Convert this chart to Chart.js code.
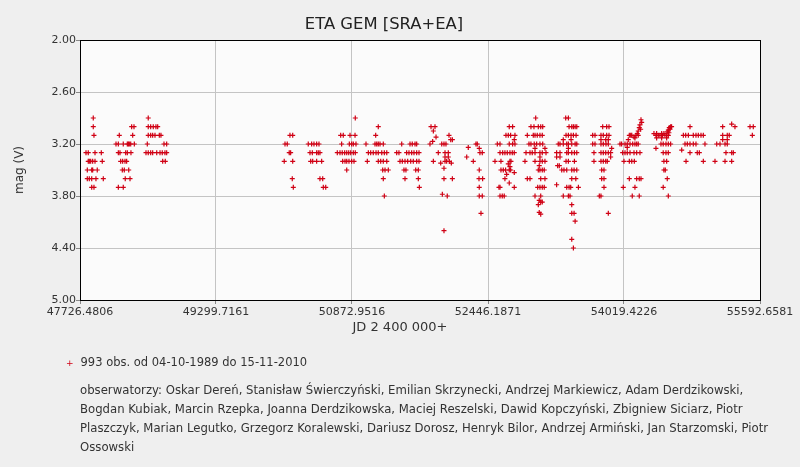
<!DOCTYPE html>
<html>
<head>
<meta charset="utf-8">
<script src="https://cdn.jsdelivr.net/npm/chart.js@4.4.0/dist/chart.umd.min.js"></script>
<style>
  html, body { margin: 0; padding: 0; background: #efefef; }
  #wrap { position: relative; width: 800px; height: 467px; font-family: "DejaVu Sans", Verdana, sans-serif; color: #333; }
  canvas { position: absolute; left: 0; top: 0; }
  .t { position: absolute; white-space: nowrap; }
  #title { left: 0; width: 768px; top: 14px; text-align: center; font-size: 16.4px; color: #222; }
  #ytitle { left: 19px; top: 170px; transform: translate(-50%, -50%) rotate(-90deg); font-size: 12px; }
  #xtitle { left: 0; width: 800px; top: 319px; text-align: center; font-size: 13px; }
  #legend { left: 66px; top: 355px; font-size: 11.5px; }
  #legend .mk { color: #d00014; font-size: 9px; margin-right: 7px; }
  #observers { left: 80px; top: 381px; font-size: 11.7px; line-height: 19px; }
</style>
</head>
<body>
<div id="wrap">
  <canvas id="chart" width="800" height="467"></canvas>
  <div class="t" id="title">ETA GEM [SRA+EA]</div>
  <div class="t" id="ytitle">mag (V)</div>
  <div class="t" id="xtitle">JD 2 400 000+</div>
  <div class="t" id="legend"><span class="mk">+</span>993 obs. od 04-10-1989 do 15-11-2010</div>
  <div class="t" id="observers">obserwatorzy: Oskar Dereń, Stanisław Świerczyński, Emilian Skrzynecki, Andrzej Markiewicz, Adam Derdzikowski,<br>Bogdan Kubiak, Marcin Rzepka, Joanna Derdzikowska, Maciej Reszelski, Dawid Kopczyński, Zbigniew Siciarz, Piotr<br>Plaszczyk, Marian Legutko, Grzegorz Koralewski, Dariusz Dorosz, Henryk Bilor, Andrzej Armiński, Jan Starzomski, Piotr<br>Ossowski</div>
</div>
<script>
// tick labels
const xTicks = [47726.4806, 49299.7161, 50872.9516, 52446.1871, 54019.4226, 55592.6581];
const yTicks = [2.00, 2.60, 3.20, 3.80, 4.40, 5.00];

// observations [JD - 2400000, mag], one array per season
const season1 = [[47880,2.9],[47880,3.0],[47888,3.1],
  [47796,3.3],[47822,3.3],[47900,3.3],[47973,3.3],
  [47822,3.4],[47834,3.4],[47850,3.4],[47873,3.4],[47900,3.4],[47984,3.4],
  [47811,3.5],[47862,3.5],[47873,3.5],[47926,3.5],
  [47811,3.6],[47834,3.6],[47862,3.6],[47911,3.6],[47996,3.6],
  [47862,3.7],[47888,3.7]];
const season2 = [[48324,3.0],[48351,3.0],[48181,3.1],[48336,3.1],
  [48143,3.2],[48170,3.2],[48227,3.2],[48274,3.2],[48286,3.2],[48297,3.2],[48313,3.2],[48355,3.2],
  [48170,3.3],[48189,3.3],[48255,3.3],[48274,3.3],[48316,3.3],
  [48197,3.4],[48220,3.4],[48247,3.4],[48266,3.4],
  [48216,3.5],[48239,3.5],[48290,3.5],
  [48250,3.6],[48305,3.6],[48170,3.7],[48227,3.7]];
const season3 = [[48516,2.9],
  [48516,3.0],[48544,3.0],[48574,3.0],[48605,3.0],[48625,3.0],
  [48516,3.1],[48544,3.1],[48567,3.1],[48594,3.1],[48644,3.1],[48663,3.1],
  [48505,3.2],[48698,3.2],[48729,3.2],
  [48490,3.3],[48516,3.3],[48544,3.3],[48567,3.3],[48614,3.3],[48652,3.3],[48678,3.3],[48709,3.3],[48729,3.3],
  [48683,3.4],[48713,3.4]];
const season4 = [[50155,3.1],[50187,3.1],[50098,3.2],[50124,3.2],[50147,3.3],[50163,3.3],
  [50089,3.4],[50187,3.4],[50182,3.6],[50194,3.7]];
const season5 = [[50367,3.2],[50406,3.2],[50433,3.2],[50464,3.2],[50491,3.2],
  [50387,3.3],[50414,3.3],[50464,3.3],[50483,3.3],[50502,3.3],
  [50395,3.4],[50418,3.4],[50464,3.4],[50522,3.4],
  [50502,3.6],[50534,3.6],[50541,3.7],[50569,3.7]];
const season6 = [[50911,2.9],
  [50742,3.1],[50772,3.1],[50850,3.1],[50908,3.1],
  [50753,3.2],[50842,3.2],[50869,3.2],[50888,3.2],[50919,3.2],
  [50703,3.3],[50734,3.3],[50760,3.3],[50788,3.3],[50812,3.3],[50835,3.3],[50858,3.3],[50888,3.3],[50911,3.3],
  [50765,3.4],[50792,3.4],[50812,3.4],[50838,3.4],[50869,3.4],[50896,3.4],
  [50812,3.5]];
const season7 = [[51177,3.0],[51147,3.1],
  [51035,3.2],[51139,3.2],[51159,3.2],[51177,3.2],[51197,3.2],[51235,3.2],
  [51062,3.3],[51089,3.3],[51119,3.3],[51151,3.3],[51177,3.3],[51217,3.3],[51247,3.3],[51275,3.3],
  [51050,3.4],[51177,3.4],[51205,3.4],[51235,3.4],[51275,3.4],
  [51228,3.5],[51255,3.5],[51293,3.5],[51235,3.6],[51247,3.8]];
const season8 = [[51448,3.2],[51544,3.2],[51570,3.2],[51602,3.2],[51621,3.2],
  [51390,3.3],[51416,3.3],[51505,3.3],[51532,3.3],[51563,3.3],[51590,3.3],[51621,3.3],[51648,3.3],
  [51428,3.4],[51455,3.4],[51486,3.4],[51517,3.4],[51552,3.4],[51582,3.4],[51621,3.4],[51648,3.4],
  [51474,3.5],[51497,3.5],[51610,3.5],[51640,3.5],
  [51486,3.6],[51640,3.6],[51652,3.7]];
const season9 = [[51787,3.0],[51833,3.0],[51814,3.05],[51845,3.12],[51806,3.17],[51775,3.2],
  [51995,3.1],[52015,3.15],[52034,3.15],
  [51911,3.2],[51937,3.2],[51960,3.2],
  [51871,3.3],[51949,3.3],[51987,3.3],[51949,3.35],[51987,3.35],
  [51814,3.4],[51949,3.4],[51968,3.4],[51999,3.4],[52022,3.42],[51899,3.42],[51937,3.48],
  [51937,3.6],[52034,3.6],[51918,3.78],[51975,3.8],[51937,4.2]];
const season10 = [[52218,3.24],[52200,3.35],[52276,3.4],[52307,3.2],[52322,3.2],[52345,3.25],
  [52353,3.3],[52380,3.3],[52345,3.5],[52342,3.6],[52384,3.6],[52345,3.7],
  [52345,3.8],[52380,3.8],[52365,4.0]];
const season11 = [[52692,3.0],[52731,3.0],
  [52654,3.1],[52681,3.1],[52708,3.1],[52758,3.1],[52750,3.15],
  [52554,3.2],[52585,3.2],[52692,3.2],[52731,3.2],[52758,3.2],
  [52585,3.3],[52616,3.3],[52642,3.3],[52669,3.3],[52700,3.3],[52727,3.3],[52750,3.3],
  [52527,3.4],[52596,3.4],[52700,3.4],[52712,3.4],[52681,3.43],[52700,3.46],
  [52596,3.5],[52623,3.5],[52650,3.5],[52692,3.5],[52708,3.5],[52750,3.53],
  [52662,3.55],[52642,3.6],[52692,3.65],
  [52573,3.7],[52585,3.7],[52750,3.7],
  [52585,3.8],[52611,3.8],[52634,3.8]];
const season12 = [[52998,2.9],
  [52943,3.0],[52978,3.0],[53028,3.0],[53056,3.0],[53079,3.0],
  [52901,3.1],[52970,3.1],[52990,3.1],[53016,3.1],[53047,3.1],[53074,3.1],
  [52920,3.2],[52943,3.2],[52981,3.2],[53009,3.2],[53047,3.2],[53079,3.2],
  [52990,3.25],[53105,3.25],
  [52886,3.3],[52932,3.3],[52958,3.3],[52990,3.3],[53047,3.3],[53074,3.3],[53117,3.3],
  [53047,3.35],
  [52874,3.4],[52990,3.4],[53047,3.4],[53074,3.4],[53105,3.4],[53039,3.45],
  [53028,3.5],[53047,3.5],[53074,3.5],[53097,3.5],
  [52901,3.6],[52932,3.6],[53056,3.6],[53105,3.6],
  [53021,3.7],[53047,3.7],[53074,3.7],[53097,3.7],
  [52990,3.8],[53056,3.8],[53039,3.85],[53028,3.9],[53056,3.87],[53074,3.87],
  [53039,3.99],[53056,4.01]];
const season13 = [[53345,2.9],[53376,2.9],
  [53384,3.0],[53415,3.0],[53434,3.0],[53454,3.0],[53473,3.0],
  [53349,3.1],[53376,3.1],[53407,3.1],[53434,3.1],[53465,3.1],
  [53317,3.15],[53407,3.15],
  [53259,3.2],[53279,3.2],[53317,3.2],[53357,3.2],[53376,3.2],[53415,3.2],[53454,3.2],[53473,3.2],
  [53376,3.25],
  [53240,3.3],[53279,3.3],[53357,3.3],[53376,3.3],[53415,3.3],[53446,3.3],[53473,3.3],
  [53240,3.35],[53279,3.35],
  [53349,3.4],[53376,3.4],[53446,3.4],[53271,3.45],[53252,3.45],
  [53299,3.5],[53325,3.5],[53357,3.5],[53415,3.5],[53442,3.5],[53473,3.5],
  [53415,3.6],[53462,3.6],[53240,3.67],
  [53357,3.7],[53384,3.7],[53403,3.7],[53492,3.7],
  [53317,3.8],[53376,3.8],[53395,3.8],
  [53415,3.9],[53415,4.0],[53442,4.0],[53454,4.09],[53415,4.3],[53434,4.4]];
const season14 = [[53773,3.0],[53819,3.0],[53846,3.0],
  [53657,3.1],[53684,3.1],[53753,3.1],[53780,3.1],[53819,3.1],[53846,3.1],
  [53753,3.15],[53808,3.15],[53838,3.15],
  [53657,3.2],[53684,3.2],[53753,3.2],[53780,3.2],[53811,3.2],[53838,3.2],
  [53877,3.25],
  [53672,3.3],[53753,3.3],[53780,3.3],[53808,3.3],[53838,3.3],[53865,3.3],[53865,3.35],
  [53672,3.4],[53753,3.4],[53780,3.4],[53808,3.4],[53826,3.4],
  [53761,3.5],[53788,3.5],[53761,3.6],[53788,3.6],[53788,3.7],
  [53734,3.8],[53753,3.8],[53838,4.0]];
const season15 = [[54216,2.92],[54224,2.95],[54204,2.98],[54196,3.01],[54212,3.03],[54184,3.05],
  [54173,3.08],[54184,3.1],[54158,3.1],[54135,3.12],[54109,3.1],[54081,3.1],[54097,3.1],
  [54146,3.13],[54069,3.15],
  [53973,3.2],[53992,3.2],[54031,3.2],[54057,3.2],[54089,3.2],[54120,3.2],[54146,3.2],[54166,3.2],[54184,3.2],
  [54057,3.24],
  [54004,3.3],[54031,3.3],[54057,3.3],[54089,3.3],[54135,3.3],[54166,3.3],[54204,3.3],
  [54019,3.4],[54081,3.4],[54109,3.4],[54139,3.4],
  [54081,3.6],[54166,3.6],[54196,3.6],[54216,3.6],
  [54011,3.7],[54146,3.7],[54115,3.8],[54196,3.8]];
const season16 = [[54543,3.01],[54559,3.0],[54570,3.0],[54532,3.04],[54551,3.03],[54520,3.06],[54539,3.07],
  [54366,3.08],[54397,3.08],[54455,3.08],[54481,3.08],
  [54389,3.1],[54416,3.1],[54435,3.1],[54466,3.1],[54493,3.1],[54513,3.1],[54532,3.1],
  [54397,3.13],[54455,3.13],[54513,3.13],
  [54447,3.2],[54473,3.2],[54505,3.2],[54532,3.2],[54559,3.2],
  [54389,3.25],
  [54473,3.3],[54505,3.3],[54532,3.3],
  [54481,3.4],[54513,3.4],[54481,3.5],[54497,3.5],
  [54520,3.6],[54473,3.7],[54532,3.8]];
const season17 = [[54783,3.0],
  [54706,3.1],[54733,3.1],[54764,3.1],[54821,3.1],[54852,3.1],[54879,3.1],[54910,3.1],[54937,3.1],
  [54725,3.2],[54752,3.2],[54783,3.2],[54821,3.2],[54852,3.2],[54956,3.2],
  [54687,3.27],
  [54783,3.3],[54867,3.3],[54891,3.3],
  [54737,3.4],[54937,3.4]];
const season18 = [[55161,3.0],[55265,2.97],[55303,3.0],
  [55161,3.1],[55214,3.1],[55237,3.1],[55161,3.15],[55214,3.15],
  [55092,3.2],[55130,3.2],[55188,3.2],[55214,3.2],
  [55199,3.3],[55265,3.3],[55284,3.3],
  [55072,3.4],[55188,3.4],[55265,3.4]];
const season19 = [[55477,3.0],[55515,3.0],[55504,3.1]];

const observations = [season1, season2, season3, season4, season5, season6, season7,
  season8, season9, season10, season11, season12, season13, season14, season15,
  season16, season17, season18, season19].flat().map(([jd, mag]) => ({ x: jd, y: mag }));

// plot background and black frame
const plotFrame = {
  id: 'plotFrame',
  beforeDraw(chart) {
    const { ctx, chartArea: a } = chart;
    ctx.save();
    ctx.fillStyle = '#fbfbfb';
    ctx.fillRect(a.left, a.top, a.right - a.left, a.bottom - a.top);
    ctx.restore();
  },
  afterDraw(chart) {
    const { ctx, chartArea: a } = chart;
    ctx.save();
    ctx.strokeStyle = '#000';
    ctx.lineWidth = 1;
    ctx.strokeRect(a.left + 0.5, a.top + 0.5, a.right - a.left, a.bottom - a.top);
    ctx.restore();
  }
};

const tickFont = { family: '"DejaVu Sans", Verdana, sans-serif', size: 11 };

new Chart(document.getElementById('chart').getContext('2d'), {
  type: 'scatter',
  data: {
    datasets: [{
      data: observations,
      pointStyle: 'cross',
      radius: 2.5,
      borderWidth: 1.2,
      borderColor: '#d00014',
      backgroundColor: '#d00014'
    }]
  },
  options: {
    responsive: false,
    animation: false,
    layout: { padding: { left: 0, right: 40, top: 40, bottom: 127 } },
    plugins: {
      legend: { display: false },
      tooltip: { enabled: false }
    },
    scales: {
      x: {
        type: 'linear',
        min: xTicks[0],
        max: xTicks[xTicks.length - 1],
        afterBuildTicks: s => { s.ticks = xTicks.map(v => ({ value: v })); },
        afterFit: s => { s.height = 40; s.paddingLeft = 0; s.paddingRight = 0; },
        ticks: {
          callback: v => v.toFixed(4),
          font: tickFont,
          color: '#333',
          padding: 2,
          maxRotation: 0
        },
        grid: { color: '#c4c4c4', tickLength: 4, tickColor: '#888' },
        border: { display: false }
      },
      y: {
        reverse: true,
        min: yTicks[0],
        max: yTicks[yTicks.length - 1],
        afterBuildTicks: s => { s.ticks = yTicks.map(v => ({ value: v })); },
        afterFit: s => { s.width = 80; },
        ticks: {
          callback: v => v.toFixed(2),
          font: tickFont,
          color: '#333',
          padding: 0
        },
        grid: { color: '#c4c4c4', tickLength: 4, tickColor: '#888' },
        border: { display: false }
      }
    }
  },
  plugins: [plotFrame]
});
</script>
</body>
</html>
